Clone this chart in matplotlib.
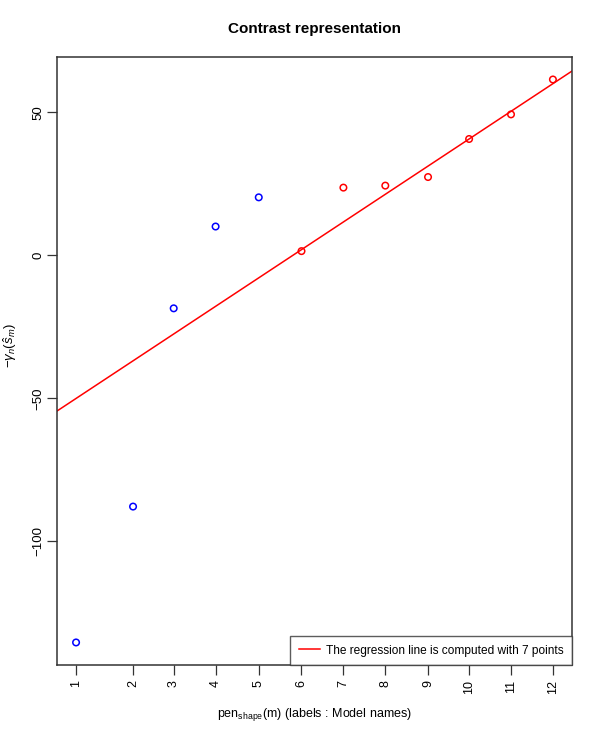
import numpy as np
import matplotlib
matplotlib.use("Agg")
import matplotlib.pyplot as plt

plt.rcParams['font.family'] = ['Liberation Sans', 'DejaVu Sans']
plt.rcParams['mathtext.fontset'] = 'custom'
plt.rcParams['mathtext.rm'] = 'Liberation Sans'
plt.rcParams['mathtext.it'] = 'Liberation Sans:italic'

# model names and their penalty shape values
model_names = ['1', '2', '3', '4', '5', '6', '7', '8', '9', '10', '11', '12']
pen_shape = [0.0, 1.36, 2.33, 3.33, 4.36, 5.38, 6.38, 7.38, 8.40, 9.38, 10.38, 11.38]
contrast = [-135.3, -87.8, -18.5, 10.1, 20.3, 1.5, 23.7, 24.4, 27.4, 40.7, 49.3, 61.5]

# points used for the regression (last 7)
n_reg = 7
reg_intercept = -50.0
reg_slope = 9.67

x = np.array(pen_shape)
y = np.array(contrast)
n_free = len(x) - n_reg

fig = plt.figure(figsize=(5.98, 7.36), dpi=100)
ax = fig.add_axes([0.0953, 0.0965, 0.8612, 0.8261])

ax.scatter(x[:n_free], y[:n_free], s=22, facecolors='none', edgecolors='blue', linewidths=1.1, zorder=3)
ax.scatter(x[n_free:], y[n_free:], s=22, facecolors='none', edgecolors='red', linewidths=1.1, zorder=3)

# R-style 4% padding
xr = x.max() - x.min()
yr = y.max() - y.min()
ax.set_xlim(x.min() - 0.04 * xr, x.max() + 0.04 * xr)
ax.set_ylim(y.min() - 0.04 * yr, y.max() + 0.04 * yr)

ax.axline((0, reg_intercept), slope=reg_slope, color='red', lw=1.1,
          label='The regression line is computed with %d points' % n_reg)

ax.set_xticks(x)
ax.set_xticklabels(model_names, rotation=90, fontsize=9)
ax.set_yticks([-100, -50, 0, 50])
ax.set_yticklabels(['\u2212100', '\u221250', '0', '50'], rotation=90, va='center', fontsize=9.5)
ax.tick_params(direction='out', length=7, width=0.9, colors='#333333', labelcolor='black', pad=4)
ax.tick_params(axis='y', pad=2)

for sp in ax.spines.values():
    sp.set_linewidth(1.1)
    sp.set_color('#333333')

ax.set_title('Contrast representation', fontsize=11, fontweight='bold', pad=17)
ax.set_xlabel(r'pen$_{\mathrm{shape}}$(m) (labels : Model names)', fontsize=9)
ax.set_ylabel(r'$-\gamma_n(\hat{s}_m)$', fontsize=9.5)
ax.xaxis.set_label_coords(0.5, -0.068)
ax.yaxis.set_label_coords(-0.074, 0.525)

leg = ax.legend(loc='lower right', fontsize=8.6, frameon=True, fancybox=False,
                borderaxespad=0, handlelength=1.8, handletextpad=0.5, borderpad=0.7)
leg.get_frame().set_edgecolor('#333333')
leg.get_frame().set_linewidth(1.0)

fig.savefig('out.png', dpi=100)
